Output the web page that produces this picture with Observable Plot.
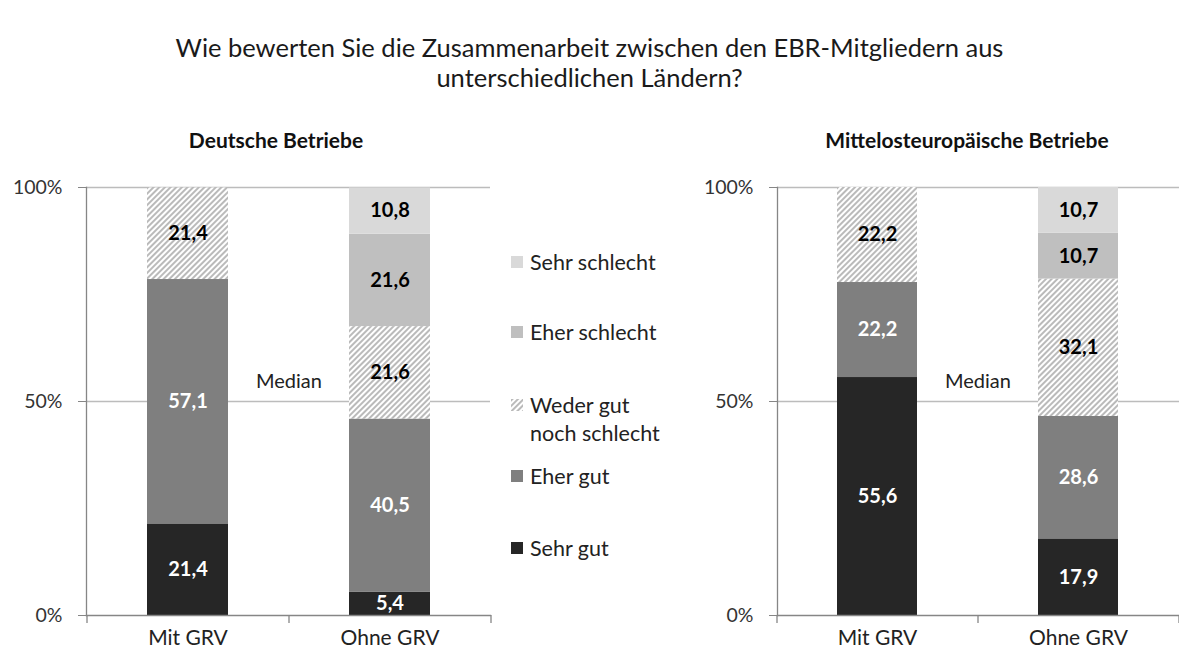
<!DOCTYPE html>
<html><head><meta charset="utf-8">
<script src="https://cdn.jsdelivr.net/npm/d3@7"></script>
<script src="https://cdn.jsdelivr.net/npm/@observablehq/plot@0.6"></script>
<style>
body{margin:0;background:#fff;}
#root{position:relative;width:1179px;height:659px;font-family:Lato,"Open Sans",sans-serif;color:#1a1a1a;overflow:hidden;background:#fff}
.abs{position:absolute;white-space:nowrap}
</style></head><body>
<div id="root"></div>
<script>
// ---- data ----
const title = ["Wie bewerten Sie die Zusammenarbeit zwischen den EBR-Mitgliedern aus", "unterschiedlichen Ländern?"];
const panelTitles = ["Deutsche Betriebe", "Mittelosteuropäische Betriebe"];
const groups = ["Mit GRV", "Ohne GRV"];
const categories = ["Sehr gut", "Eher gut", "Weder gut noch schlecht", "Eher schlecht", "Sehr schlecht"];
const legendLabels = ["Sehr schlecht", "Eher schlecht", "Weder gut\nnoch schlecht", "Eher gut", "Sehr gut"];
const deutscheMit = [21.4, 57.1, 21.4, 0, 0];
const deutscheOhne = [5.4, 40.5, 21.6, 21.6, 10.8];
const moeMit = [55.6, 22.2, 22.2, 0, 0];
const moeOhne = [17.9, 28.6, 32.1, 10.7, 10.7];
const yTicks = [0, 50, 100];
const medianLabel = "Median";
const colors = ["#262626", "#7f7f7f", "url(#hatch)", "#bfbfbf", "#d9d9d9"];
const darkCats = ["Sehr gut", "Eher gut"];

const root = document.getElementById("root");

// hatch pattern defs
root.insertAdjacentHTML("beforeend", `<svg width="0" height="0" style="position:absolute"><defs>
<pattern id="hatch" width="4" height="4" patternUnits="userSpaceOnUse" patternTransform="rotate(45)">
<rect width="4" height="4" fill="#ffffff"/><line x1="1" y1="0" x2="1" y2="4" stroke="#959595" stroke-width="1.3"/></pattern>
</defs></svg>`);

function rowsOf(mit, ohne) {
  const rows = [];
  [mit, ohne].forEach((vals, gi) => vals.forEach((v, ci) => rows.push({group: groups[gi], cat: categories[ci], value: v})));
  return rows;
}
const fmt = v => v.toFixed(1).replace(".", ",");
const axisColor = "#868686";

function panel(rows, width, marginLeft, marginRight) {
  const step = (width - marginLeft - marginRight) / groups.length;
  return Plot.plot({
    width, height: 659, marginTop: 187, marginBottom: 44, marginLeft, marginRight,
    style: {fontFamily: "Lato, 'Open Sans', sans-serif", fontSize: "19px", color: "#333", overflow: "visible", background: "transparent"},
    x: {domain: groups, paddingInner: 0.6, paddingOuter: 0.3, axis: null},
    y: {domain: [0, 100], axis: null},
    color: {domain: categories, range: colors},
    marks: [
      Plot.ruleY(yTicks.filter(d => d > 0), {stroke: "#bcbcbc", strokeWidth: 1.3}),
      Plot.barY(rows, Plot.stackY({x: "group", y: "value", fill: "cat", order: categories})),
      Plot.frame({anchor: "left", stroke: axisColor, strokeWidth: 1.3}),
      Plot.frame({anchor: "bottom", stroke: axisColor, strokeWidth: 1.3}),
      Plot.axisY({ticks: yTicks, tickSize: 8, tickPadding: 16, tickFormat: d => d + "%", label: null, stroke: axisColor, fill: "#333", fontSize: 19.5}),
      Plot.axisX({tickSize: 0, tickPadding: 15, label: null, fill: "#222", fontSize: 21}),
      Plot.ruleX(groups, {x: d => d, y1: 0, y2: 0, dx: -step / 2, insetBottom: -8, stroke: axisColor, strokeWidth: 1.3}),
      Plot.ruleX(groups.slice(-1), {x: d => d, y1: 0, y2: 0, dx: step / 2, insetBottom: -8, stroke: axisColor, strokeWidth: 1.3}),
      Plot.text(rows, Plot.stackY({x: "group", y: "value", z: "cat", order: categories,
        text: d => (d.value > 0 && darkCats.includes(d.cat)) ? fmt(d.value) : null,
        fill: "#ffffff", fontWeight: "bold", fontSize: 20})),
      Plot.text(rows, Plot.stackY({x: "group", y: "value", z: "cat", order: categories,
        text: d => (d.value > 0 && !darkCats.includes(d.cat)) ? fmt(d.value) : null,
        fill: "#000000", fontWeight: "bold", fontSize: 20})),
      Plot.text([medianLabel], {x: () => groups[0], y: () => 50, text: d => d, dx: step / 2, dy: -20, fill: "#222", fontSize: 20})
    ]
  });
}

function place(el, left, top) {
  el.style.position = "absolute"; el.style.left = left + "px"; el.style.top = top + "px";
  root.appendChild(el);
}

place(panel(rowsOf(deutscheMit, deutscheOhne), 495, 86, 5), 0, 0);
place(panel(rowsOf(moeMit, moeOhne), 489, 87, 0), 690, 0);

// titles
const t = document.createElement("div");
t.className = "abs";
t.style.cssText = "left:0;width:1179px;top:32px;text-align:center;font-size:25.5px;line-height:30px;color:#1a1a1a;white-space:normal";
t.innerHTML = title.join("<br>");
root.appendChild(t);

[[panelTitles[0], 276], [panelTitles[1], 967]].forEach(([txt, cx]) => {
  const d = document.createElement("div");
  d.className = "abs";
  d.style.cssText = `left:${cx - 250}px;width:500px;top:128px;line-height:24px;text-align:center;font-size:21px;font-weight:bold;color:#111`;
  d.textContent = txt;
  root.appendChild(d);
});

// legend
const legendY = [262, 332, 405, 476, 548];
legendLabels.forEach((lab, i) => {
  const catIndex = categories.length - 1 - i;
  const sw = document.createElementNS("http://www.w3.org/2000/svg", "svg");
  sw.setAttribute("width", 12); sw.setAttribute("height", 12);
  sw.innerHTML = `<rect width="12" height="12" fill="${colors[catIndex]}"/>`;
  sw.style.cssText = `position:absolute;left:511px;top:${legendY[i] - 6}px`;
  root.appendChild(sw);
  const d = document.createElement("div");
  d.className = "abs";
  d.style.cssText = `left:530px;top:${legendY[i] - 14}px;font-size:21.5px;line-height:28px;color:#222;white-space:pre`;
  d.textContent = lab;
  root.appendChild(d);
});
</script>
</body></html>
